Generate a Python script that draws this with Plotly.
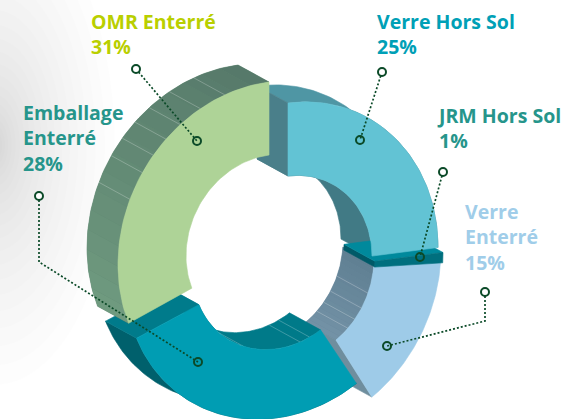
import numpy as np
import plotly.graph_objects as go

# ---- data ----
categories = ["Verre Hors Sol", "JRM Hors Sol", "Verre Enterré", "Emballage Enterré", "OMR Enterré"]
shares = [25, 1, 15, 28, 31]
label_lines = [["Verre Hors Sol", "25%"], ["JRM Hors Sol", "1%"], ["Verre", "Enterré", "15%"],
               ["Emballage", "Enterré", "28%"], ["OMR Enterré", "31%"]]

# ---- style / projection ----
label_xy = [(377, 8), (437, 102), (465, 198), (23, 99), (91, 8)]
label_col = ["#00a0b6", "#26958b", "#a0cde9", "#26958b", "#b9cf00"]
face_col = ["#62c3d4", "#006f7e", "#9ecbe8", "#009db3", "#aed397"]
# centre x, centre y, rx, ry, inner rx, inner ry per slice
geom = [(288, 267, 150, 164, 84, 91), (293, 272, 150, 164, 82, 91), (292, 269, 149, 164, 82, 91),
        (276, 263, 150, 155, 83, 86), (269, 245, 151, 163, 83, 90)]
DEPTH = (-31, -17)
SHEAR = 0.13
outer_wall = [("#4f96a4", "#4f96a4"), None, None, ("#00606c", "#00606c"), ("#6f9a7f", "#56796a")]
inner_wall = [("#417a85", "#417a85"), ("#005a68", "#005a68"), ("#5f7f92", "#7392a6"), ("#007a89", "#007a89"), None]
cap_col = ["#4a7f8a", "#00899c", "#6f8e9e", "#007b8b", None]
cap_at_end = [False, False, True, True, None]  # which end of the slice shows its cut face
# (slice, inner?, angle) of the faint seams on the walls
seams = [(4, False, t) for t in (-17, -27, -36, -43, -50, -57, -67)] + \
        [(2, True, t) for t in (112, 122, 130, 137)] + \
        [(3, True, t) for t in (156, 163, 203)]
leaders = [[(382, 72), (360, 140)], [(443, 172), (420, 257)], [(485, 292), (485, 321), (387, 346)],
           [(39, 196), (39, 262), (198, 362)], [(136, 69), (197, 141)]]
FONT = "Open Sans"

fig = go.Figure()


def pts(g, a, inner=False):
    cx, cy, rx, ry, rxi, ryi = g
    a = np.radians(np.asarray(a, dtype=float))
    X, Y = (rxi, ryi) if inner else (rx, ry)
    return cx + X * np.sin(a), cy - Y * np.cos(a) - SHEAR * X * np.sin(a)


def poly(x, y, fill, width=0.6):
    x, y = list(x), list(y)
    fig.add_trace(go.Scatter(x=x + x[:1], y=y + y[:1], mode="lines", fill="toself", fillcolor=fill,
                             line=dict(color=fill, width=width), hoverinfo="skip", showlegend=False))


def hexmix(c1, c2, t):
    a = [int(c1[i:i + 2], 16) for i in (1, 3, 5)]
    b = [int(c2[i:i + 2], 16) for i in (1, 3, 5)]
    return "#" + "".join(f"{round(p + (q - p) * t):02x}" for p, q in zip(a, b))


def wall(g, a0, a1, inner, cols):
    d = DEPTH
    # solid underlay so that no light seam shows between the gradient steps
    seg = np.linspace(a0, a1, 80)
    x, y = pts(g, seg, inner)
    poly(np.r_[x, x[::-1] + d[0]], np.r_[y, y[::-1] + d[1]], hexmix(cols[0], cols[1], 0.5))
    if cols[0] == cols[1]:
        return
    n = 16
    edges = np.linspace(a0, a1, n + 1)
    for i in range(n):
        seg = np.linspace(edges[i], edges[i + 1], 8)
        x, y = pts(g, seg, inner)
        poly(np.r_[x, x[::-1] + d[0]], np.r_[y, y[::-1] + d[1]], hexmix(cols[0], cols[1], i / (n - 1)), width=0)


def cap(g, a, col):
    d = DEPTH
    xo, yo = pts(g, [a])
    xi, yi = pts(g, [a], True)
    poly([xo[0], xi[0], xi[0] + d[0], xo[0] + d[0]], [yo[0], yi[0], yi[0] + d[1], yo[0] + d[1]], col)


cum = np.r_[0, np.cumsum(shares)] / sum(shares) * 360


def draw_sides(i):
    a0, a1 = cum[i], cum[i + 1]
    g = geom[i]
    if outer_wall[i]:
        wall(g, a0, a1, False, outer_wall[i])
    if inner_wall[i]:
        wall(g, a0, a1, True, inner_wall[i])
    if cap_col[i]:
        cap(g, a1 if cap_at_end[i] else a0, cap_col[i])
    for s, inner, t in seams:
        if s == i:
            xx, yy = pts(g, [t], inner)
            fig.add_trace(go.Scatter(x=[xx[0], xx[0] + DEPTH[0]], y=[yy[0], yy[0] + DEPTH[1]], mode="lines",
                                     line=dict(color="rgba(255,255,255,0.3)", width=0.8),
                                     hoverinfo="skip", showlegend=False))


def draw_face(i):
    th = np.linspace(cum[i], cum[i + 1], 60)
    xo, yo = pts(geom[i], th)
    xi, yi = pts(geom[i], th, True)
    poly(np.r_[xo, xi[::-1]], np.r_[yo, yi[::-1]], face_col[i])


draw_sides(0)
draw_sides(2)
draw_face(2)
draw_sides(1)
draw_face(1)
draw_face(0)
draw_sides(3)
draw_face(3)
draw_sides(4)
draw_face(4)

for path in leaders:
    xs, ys = zip(*path)
    fig.add_trace(go.Scatter(x=xs, y=ys, mode="lines", line=dict(color="#0b4a28", width=1.7, dash="2px 2px"),
                             hoverinfo="skip", showlegend=False))
    fig.add_trace(go.Scatter(x=[xs[0], xs[-1]], y=[ys[0], ys[-1]], mode="markers",
                             marker=dict(size=8, color=["white", "rgba(0,0,0,0)"],
                                         line=dict(color="#0b4a28", width=2)),
                             hoverinfo="skip", showlegend=False))

for lines, (x, y), c in zip(label_lines, label_xy, label_col):
    fig.add_annotation(x=x, y=y, text="<br>".join(f"<b>{s}</b>" for s in lines), showarrow=False,
                       xanchor="left", yanchor="top", align="left",
                       font=dict(family=FONT, size=19.5, color=c), borderpad=0, borderwidth=0)

shapes = []
for k in range(24):
    f = (1 - k / 24) ** 2
    shapes.append(dict(type="circle", xref="x", yref="y", x0=-5 - 120 * f, x1=-5 + 120 * f,
                       y0=145 - 240 * f, y1=145 + 240 * f, line_width=0,
                       fillcolor="rgba(0,0,0,0.006)", layer="below"))

fig.update_layout(width=575, height=419, margin=dict(l=0, r=0, t=0, b=0), paper_bgcolor="white",
                  plot_bgcolor="white", showlegend=False, shapes=shapes,
                  xaxis=dict(range=[0, 575], visible=False, fixedrange=True),
                  yaxis=dict(range=[419, 0], visible=False, fixedrange=True))
fig.write_html("out.html", config={"displayModeBar": False},
               post_script="document.body.style.margin='0';document.body.style.overflow='hidden';")
